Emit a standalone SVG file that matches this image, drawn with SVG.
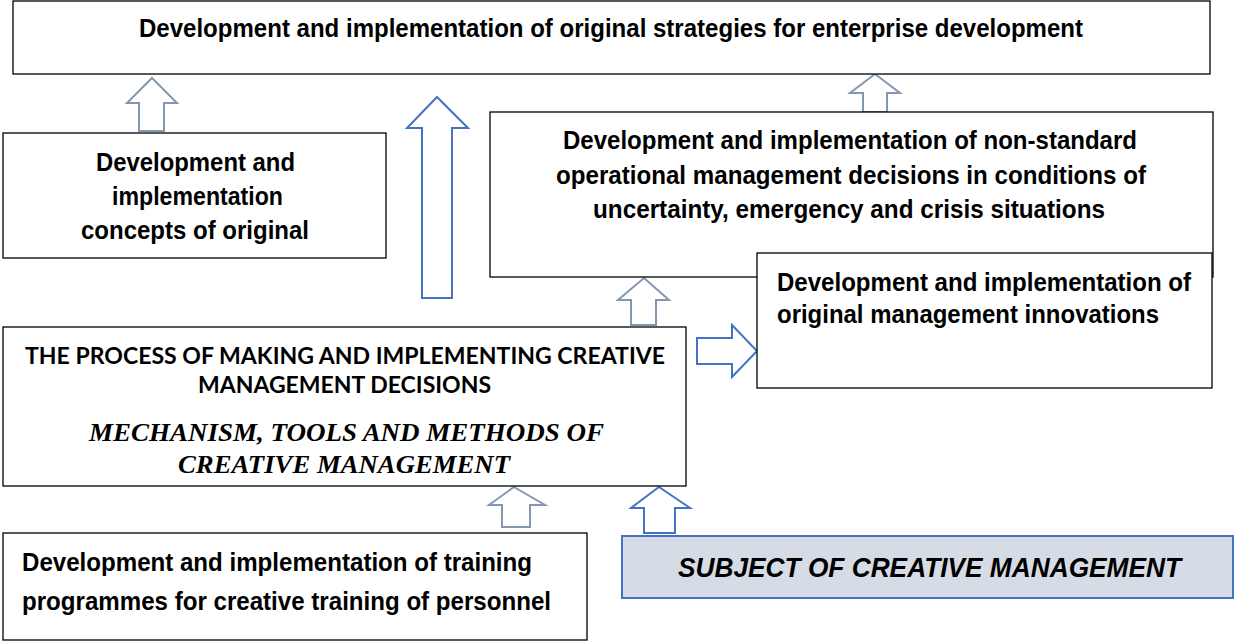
<svg xmlns="http://www.w3.org/2000/svg" width="1234" height="643" viewBox="0 0 1234 643">
<style>
.box{fill:#fff;stroke:#000;stroke-width:1.3}
.subj{fill:#d6dce5;stroke:#4472c4;stroke-width:2}
.t{font-family:"Liberation Sans Narrow","Liberation Sans",Arial,sans-serif;font-weight:bold;font-size:26px;fill:#000}
.c{font-family:Lato,"Open Sans","Liberation Sans",sans-serif;font-weight:bold;font-size:23px;fill:#000}
.s{font-family:"Liberation Serif","Times New Roman",serif;font-weight:bold;font-style:italic;font-size:26px;fill:#000}
.si{font-family:"Liberation Sans Narrow","Liberation Sans",Arial,sans-serif;font-weight:bold;font-style:italic;font-size:28px;fill:#000}
.ga{fill:#fff;stroke:#8497b0;stroke-width:2;stroke-linejoin:miter}
.ba{fill:#fff;stroke:#4472c4;stroke-width:2;stroke-linejoin:miter}
</style>
<g id="connectors">
<path class="ga" d="M152,78 L177,103 L164,103 L164,131 L139,131 L139,103 L127,103 Z"/>
<path class="ba" d="M437,97 L468,128 L452,128 L452,298 L422,298 L422,128 L407,128 Z"/>
<path class="ga" d="M875,74 L900,93 L887,93 L887,112 L863,112 L863,93 L850,93 Z"/>
<path class="ga" d="M644,278 L669,300 L656,300 L656,325 L631,325 L631,300 L618,300 Z"/>
<path class="ba" d="M757,351 L732,377 L732,364 L697,364 L697,338 L732,338 L732,325 Z"/>
<path class="ga" d="M514,487 L545,505 L530,505 L530,527 L502,527 L502,505 L489,505 Z"/>
<path class="ba" d="M659,487 L690,508 L675,508 L675,533 L644,533 L644,508 L631,508 Z"/>
</g>
<g id="node-top">
<rect class="box" x="13" y="1" width="1197" height="73"/>
<text class="t" x="139" y="37" textLength="944" lengthAdjust="spacingAndGlyphs">Development and implementation of original strategies for enterprise development</text>
</g>
<g id="node-concepts">
<rect class="box" x="3" y="133" width="383" height="125"/>
<text class="t" x="96" y="171" textLength="199" lengthAdjust="spacingAndGlyphs">Development and</text>
<text class="t" x="112" y="205" textLength="171" lengthAdjust="spacingAndGlyphs">implementation</text>
<text class="t" x="81" y="239" textLength="228" lengthAdjust="spacingAndGlyphs">concepts of original</text>
</g>
<g id="node-nonstandard">
<rect class="box" x="490" y="112" width="723" height="165"/>
<text class="t" x="563" y="149" textLength="574" lengthAdjust="spacingAndGlyphs">Development and implementation of non-standard</text>
<text class="t" x="556" y="184" textLength="590" lengthAdjust="spacingAndGlyphs">operational management decisions in conditions of</text>
<text class="t" x="593" y="218" textLength="512" lengthAdjust="spacingAndGlyphs">uncertainty, emergency and crisis situations</text>
</g>
<g id="node-innovations">
<rect class="box" x="757" y="253" width="455" height="135"/>
<text class="t" x="777" y="291" textLength="414" lengthAdjust="spacingAndGlyphs">Development and implementation of</text>
<text class="t" x="777" y="323" textLength="382" lengthAdjust="spacingAndGlyphs">original management innovations</text>
</g>
<g id="node-process">
<rect class="box" x="3" y="327" width="683" height="159"/>
<text class="c" x="25" y="364" textLength="640" lengthAdjust="spacingAndGlyphs">THE PROCESS OF MAKING AND IMPLEMENTING CREATIVE</text>
<text class="c" x="198" y="393" textLength="293" lengthAdjust="spacingAndGlyphs">MANAGEMENT DECISIONS</text>
<text class="s" x="89" y="441" textLength="515" lengthAdjust="spacingAndGlyphs">MECHANISM, TOOLS AND METHODS OF</text>
<text class="s" x="178" y="473" textLength="332" lengthAdjust="spacingAndGlyphs">CREATIVE MANAGEMENT</text>
</g>
<g id="node-training">
<rect class="box" x="3" y="533" width="584" height="107"/>
<text class="t" x="22" y="571" textLength="510" lengthAdjust="spacingAndGlyphs">Development and implementation of training</text>
<text class="t" x="22" y="610" textLength="529" lengthAdjust="spacingAndGlyphs">programmes for creative training of personnel</text>
</g>
<g id="node-subject">
<rect class="subj" x="622" y="536" width="611" height="62"/>
<text class="si" x="678" y="577" textLength="503" lengthAdjust="spacingAndGlyphs">SUBJECT OF CREATIVE MANAGEMENT</text>
</g>
</svg>
